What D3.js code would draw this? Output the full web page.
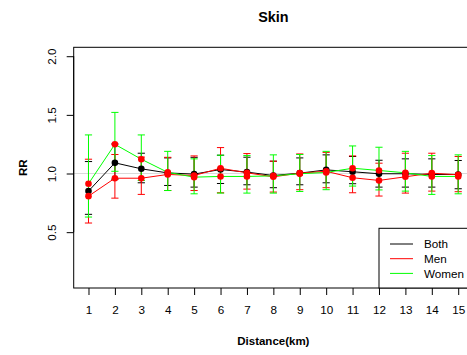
<!DOCTYPE html>
<html><head><meta charset="utf-8">
<script src="https://cdn.jsdelivr.net/npm/d3@7"></script>
<style>body{margin:0;background:#fff}svg{display:block;font-family:"Liberation Sans",Arial,sans-serif}</style>
</head><body>
<svg id="c" width="467" height="355"></svg>
<script>
const dist = [1,2,3,4,5,6,7,8,9,10,11,12,13,14,15];
const both    = [0.850,1.091,1.040,1.005,0.995,1.034,1.012,0.983,1.003,1.031,1.015,0.998,0.998,0.992,0.992];
const bothLo  = [0.652,0.951,0.921,0.898,0.884,0.915,0.904,0.879,0.904,0.921,0.913,0.884,0.884,0.884,0.870];
const bothHi  = [1.102,1.252,1.173,1.133,1.138,1.156,1.139,1.105,1.133,1.159,1.145,1.113,1.125,1.125,1.111];
const men     = [0.807,0.960,0.960,0.992,0.983,1.045,1.006,0.972,1.003,1.019,0.964,0.941,0.972,1.003,0.989];
const menLo   = [0.578,0.790,0.822,0.855,0.855,0.836,0.867,0.842,0.862,0.879,0.836,0.808,0.833,0.850,0.845];
const menHi   = [1.122,1.162,1.140,1.138,1.150,1.221,1.170,1.105,1.167,1.180,1.150,1.088,1.173,1.173,1.145];
const women   = [0.913,1.249,1.122,1.010,0.969,0.975,0.975,0.980,0.998,1.009,1.045,1.026,1.006,0.975,0.975];
const womenLo = [0.629,1.019,0.940,0.855,0.827,0.833,0.833,0.833,0.847,0.862,0.893,0.860,0.850,0.822,0.827];
const womenHi = [1.329,1.521,1.329,1.189,1.125,1.156,1.153,1.159,1.162,1.189,1.235,1.224,1.189,1.153,1.159];
const yTicks = [0.5,1.0,1.5,2.0];
const legendLabels = ["Both","Men","Women"];
const title = "Skin", xTitle = "Distance(km)", yTitle = "RR";

const svg = d3.select("#c");
const L = 73.7, R = 473, T = 47.3, B = 288;
const x = d3.scaleLinear().domain([0.44, 15.56]).range([L, R]);
const y = d3.scaleLinear().domain([0.024, 2.076]).range([B, T]);

// reference line
svg.append("line").attr("x1", L).attr("x2", R).attr("y1", y(1)).attr("y2", y(1))
  .attr("stroke", "#d9d9d9").attr("stroke-width", 1);

const series = [
  {name: legendLabels[0], v: both, lo: bothLo, hi: bothHi, col: "#000000", pt: "#000000"},
  {name: legendLabels[1], v: men, lo: menLo, hi: menHi, col: "#FF0000", pt: "#FF0000"},
  {name: legendLabels[2], v: women, lo: womenLo, hi: womenHi, col: "#00FF00", pt: "#FF0000"}
];

const line = d3.line().x((d, i) => x(dist[i])).y(d => y(d));
series.forEach(s => {
  svg.append("path").attr("d", line(s.v)).attr("fill", "none").attr("stroke", s.col).attr("stroke-width", 1);
});
series.forEach(s => {
  const g = svg.append("g").attr("stroke", s.col).attr("stroke-width", 1);
  dist.forEach((d, i) => {
    g.append("line").attr("x1", x(d)).attr("x2", x(d)).attr("y1", y(s.lo[i])).attr("y2", y(s.hi[i]));
    g.append("line").attr("x1", x(d) - 3.6).attr("x2", x(d) + 3.6).attr("y1", y(s.lo[i])).attr("y2", y(s.lo[i]));
    g.append("line").attr("x1", x(d) - 3.6).attr("x2", x(d) + 3.6).attr("y1", y(s.hi[i])).attr("y2", y(s.hi[i]));
  });
});
series.forEach(s => {
  svg.append("g").selectAll("circle").data(s.v).join("circle")
    .attr("cx", (d, i) => x(dist[i])).attr("cy", d => y(d)).attr("r", 3.3).attr("fill", s.pt);
});

// box
svg.append("rect").attr("x", L).attr("y", T).attr("width", R - L).attr("height", B - T)
  .attr("fill", "none").attr("stroke", "#000").attr("stroke-width", 1);

// x axis
const xa = svg.append("g").attr("transform", `translate(0,${B})`)
  .call(d3.axisBottom(x).tickValues(dist).tickFormat(d3.format("d")).tickSize(7).tickPadding(11));
xa.select(".domain").remove();
xa.selectAll("text").attr("font-size", "11.7px").attr("fill", "#000").attr("font-family", "Liberation Sans, Arial, sans-serif");

// y axis
const ya = svg.append("g").attr("transform", `translate(${L},0)`)
  .call(d3.axisLeft(y).tickValues(yTicks).tickFormat(d3.format(".1f")).tickSize(7));
ya.select(".domain").attr("d", `M0,${y(0.5)}V${y(2.0)}`);
ya.selectAll(".tick text").attr("font-size", "11.7px").attr("fill", "#000")
  .attr("font-family", "Liberation Sans, Arial, sans-serif")
  .attr("x", null).attr("dy", null).attr("text-anchor", "middle")
  .attr("transform", "translate(-18,0) rotate(-90)");

// titles
svg.append("text").attr("x", (L + R) / 2).attr("y", 22).attr("text-anchor", "middle")
  .attr("font-weight", "bold").attr("font-size", "14.4px").text(title);
svg.append("text").attr("x", (L + R) / 2).attr("y", 345).attr("text-anchor", "middle")
  .attr("font-weight", "bold").attr("font-size", "11.5px").text(xTitle);
svg.append("text").attr("transform", `translate(27,${(T + B) / 2}) rotate(-90)`).attr("text-anchor", "middle")
  .attr("font-weight", "bold").attr("font-size", "11.5px").text(yTitle);

// legend
const lg = svg.append("g");
lg.append("rect").attr("x", 379).attr("y", 228.3).attr("width", R - 379).attr("height", B - 228.3)
  .attr("fill", "#fff").attr("stroke", "#000").attr("stroke-width", 1);
series.forEach((s, i) => {
  const yy = 244 + i * 14.7;
  lg.append("line").attr("x1", 390).attr("x2", 413).attr("y1", yy).attr("y2", yy).attr("stroke", s.col).attr("stroke-width", 1);
  lg.append("text").attr("x", 424).attr("y", yy + 4.2).attr("font-size", "11.7px").text(s.name);
});
</script>
</body></html>
